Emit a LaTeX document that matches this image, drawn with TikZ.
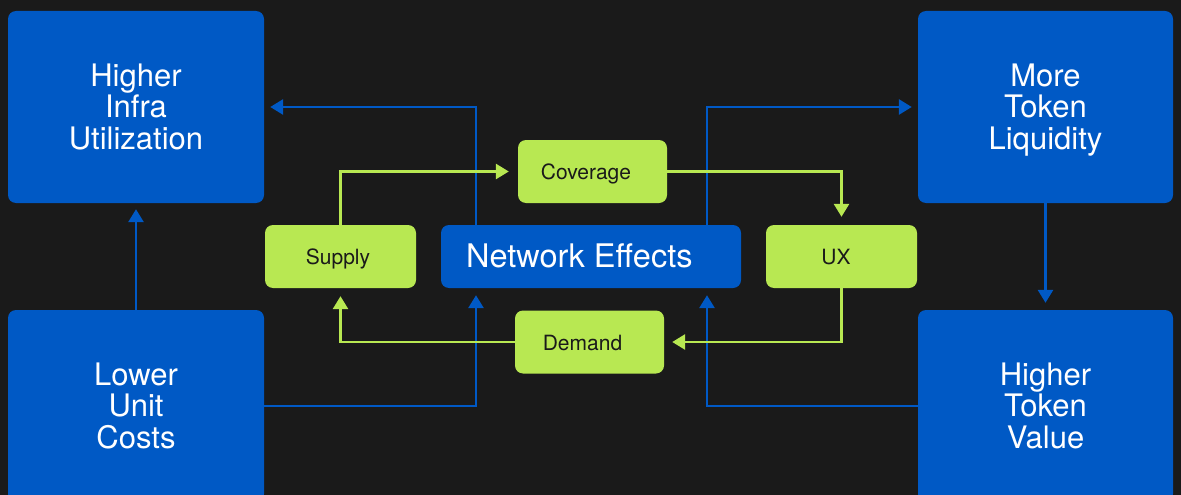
\documentclass[tikz,border=0pt]{standalone}
\usepackage{fontspec}
\setmainfont{TeX Gyre Heros}
\usetikzlibrary{arrows.meta,calc}
\definecolor{bgdark}{HTML}{1A1A1A}
\definecolor{flowblue}{HTML}{0059C5}
\definecolor{flowgreen}{HTML}{B8E852}
\definecolor{inkdark}{HTML}{1A1A1A}
\tikzset{
  bigbox/.style={fill=flowblue, draw=none, rounded corners=8pt, minimum width=256pt,
    minimum height=192pt, inner sep=0pt},
  bigtext/.style={inner sep=0pt, align=center, text=white,
    font=\fontsize{31}{31.6}\selectfont},
  smallbox/.style={fill=flowgreen, draw=none, rounded corners=8pt, minimum width=151pt,
    minimum height=63pt, inner sep=0pt},
  smalltext/.style={inner sep=0pt, text=inkdark, text height=16pt, text depth=0pt,
    font=\fontsize{21}{24}\selectfont},
  hubbox/.style={fill=flowblue, draw=none, rounded corners=8pt, minimum width=300pt,
    minimum height=63pt, inner sep=0pt},
  blueflow/.style={draw=flowblue, line width=2.8pt,
    -{Triangle[length=13pt,width=15pt]}},
  greenflow/.style={draw=flowgreen, line width=2.8pt,
    -{Triangle[length=13pt,width=15pt]}},
}
% first line padded to cap height, last line to descender depth,
% so every three-line label centres the same way
\newcommand{\threelines}[3]{\vphantom{H}#1\\#2\\#3\vphantom{g}}
\begin{document}
\begin{tikzpicture}[x=1pt,y=-1pt]
  \useasboundingbox (0,0) rectangle (1181,495);
  \fill[bgdark] (0,0) rectangle (1181,495);
  \clip (0,0) rectangle (1181,495);

  % outer outcome boxes
  \node[bigbox] (infra)  at (136,107) {};
  \node[bigbox] (costs)  at (136,406) {};
  \node[bigbox, minimum width=255pt] (liquid) at (1045.5,107) {};
  \node[bigbox, minimum width=255pt] (value)  at (1045.5,406) {};
  \node[bigtext] (infraText)  at ($(infra.center)+(0,3)$)  {\threelines{Higher}{Infra}{Utilization}};
  \node[bigtext] (costsText)  at ($(costs.center)+(0,3)$)  {\threelines{Lower}{Unit}{Costs}};
  \node[bigtext] (liquidText) at ($(liquid.center)+(0,3)$) {\threelines{More}{Token}{Liquidity}};
  \node[bigtext] (valueText)  at ($(value.center)+(0,3)$)  {\threelines{Higher}{Token}{Value}};

  % inner loop
  \node[hubbox] (hub) at (591,256.5) {};
  \node[anchor=base west, text=white, inner sep=0pt, font=\fontsize{32.5}{34}\selectfont]
    (hubText) at (466,267) {Network Effects};
  \node[smallbox] (supply)   at (340.5,256.5) {};
  \node[smallbox] (ux)       at (841.5,256.5) {};
  \node[smallbox, minimum width=149pt] (coverage) at (592.5,171.5) {};
  \node[smallbox, minimum width=149pt] (demand)   at (589.5,342)   {};
  \node[smalltext] (supplyText)   at (338,256.5)   {Supply};
  \node[smalltext] (uxText)       at (836,256.5)   {UX};
  \node[smalltext] (coverageText) at (586,171.5)   {Coverage};
  \node[smalltext] (demandText)   at (582.5,342)   {Demand};

  % attachment points on the hub
  \coordinate (hubTL) at ($(hub.north)+(-115,0)$);
  \coordinate (hubTR) at ($(hub.north)+(116,0)$);
  \coordinate (hubBL) at ($(hub.south)+(-115,0)$);
  \coordinate (hubBR) at ($(hub.south)+(116,0)$);

  % blue links
  \draw[blueflow, shorten >=6pt] (hubTL) |- (infra.east);
  \draw[blueflow, shorten >=6pt] (hubTR) |- (liquid.west);
  \draw[blueflow, shorten >=7pt] (costs.east) -| (hubBL);
  \draw[blueflow, shorten >=7pt] (value.west) -| (hubBR);
  \draw[blueflow, shorten >=6pt] (costs.north) -- (infra.south);
  \draw[blueflow, shorten >=7pt] (liquid.south) -- (value.north);

  % green loop
  \draw[greenflow, shorten >=9pt] (supply.north) |- (coverage.west);
  \draw[greenflow, shorten >=8pt] (coverage.east) -| (ux.north);
  \draw[greenflow, shorten >=8pt] (ux.south) |- (demand.east);
  \draw[greenflow, shorten >=8pt] (demand.west) -| (supply.south);
\end{tikzpicture}
\end{document}
